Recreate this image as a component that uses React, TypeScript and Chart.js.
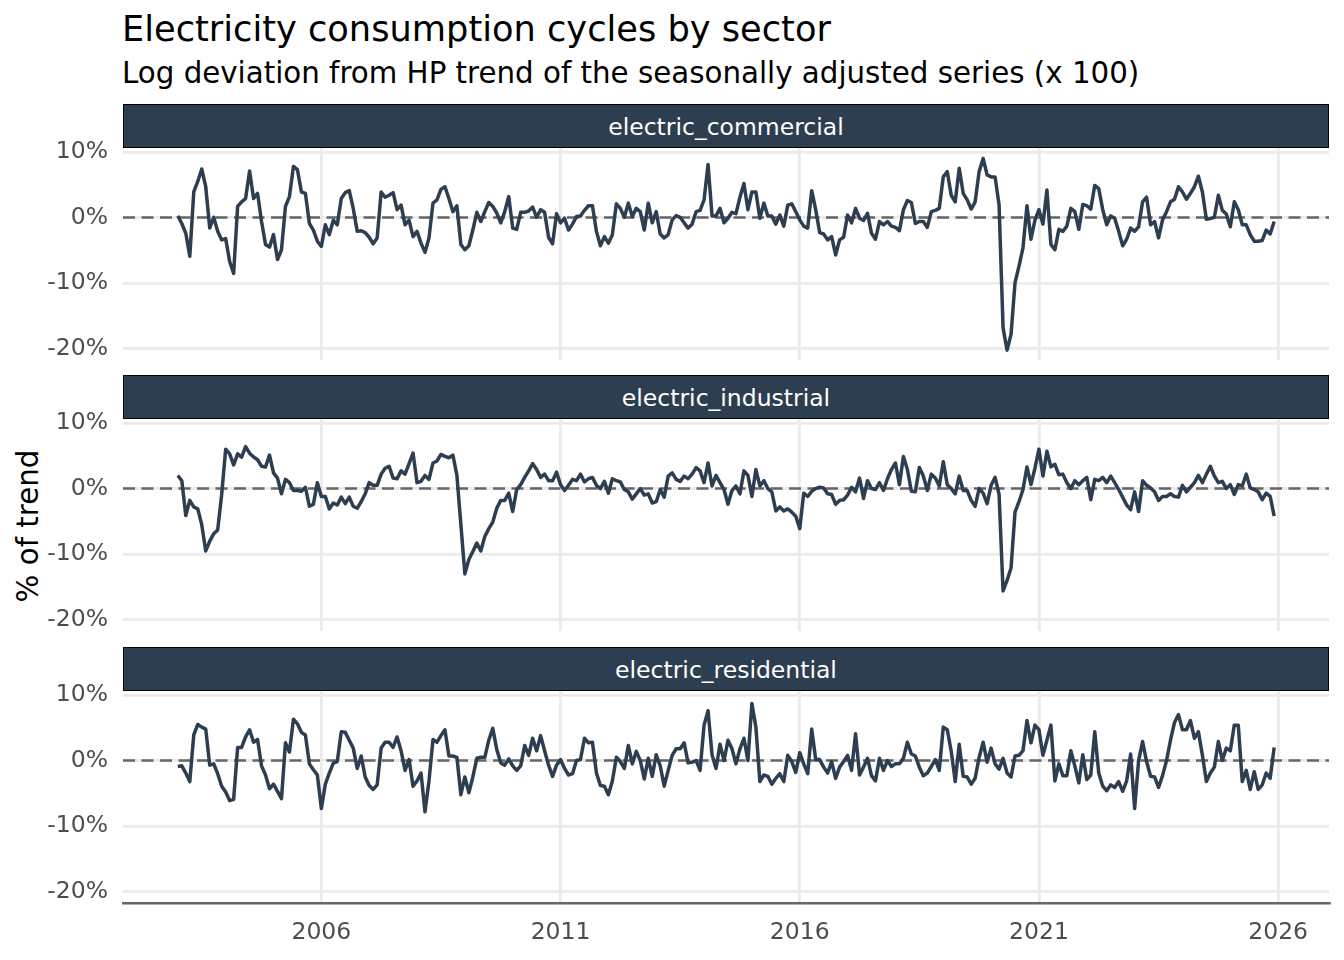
import React, { useEffect, useRef } from "react";
import { Chart, registerables } from "chart.js";

Chart.register(...registerables);

// ---------------- data ----------------
const START_YEAR = 2003; // first monthly observation: Jan 2003
const SECTORS = ["electric_commercial", "electric_industrial", "electric_residential"];

const commercial = [
  0.25, -0.9, -2.4, -5.9, 3.9, 5.5, 7.4, 4.7, -1.6, 0.05, -2.1, -3.4,
  -3.2, -6.7, -8.5, 1.7, 2.4, 2.9, 7.1, 2.9, 3.7, -0.6, -4.1, -4.5,
  -2.6, -6.4, -4.9, 1.7, 3.2, 7.8, 7.3, 3.9, 3.7, -0.9, -1.9, -3.6,
  -4.4, -1.1, -2.6, -0.4, -1.1, 2.9, 3.8, 4.1, 1.4, -2.1, -2.0, -2.3,
  -3.0, -4.0, -3.1, 3.9, 3.1, 3.4, 3.8, 1.2, 1.9, -1.1, -0.4, -2.9,
  -2.1, -3.9, -5.3, -3.1, 2.2, 2.7, 4.3, 4.7, 2.9, 0.9, 1.8, -4.1,
  -4.9, -4.3, -1.9, 0.8, -0.6, 0.9, 2.3, 1.7, 0.7, -0.8, 0.9, 3.2,
  -1.6, -1.8, 0.8, 0.8, 1.0, 1.6, 0.05, 1.2, 0.8, -3.0, -4.0, 0.6,
  -0.8, -0.1, -1.9, -1.0, 0.15, 0.25, 1.1, 1.8, 1.8, -2.1, -4.3, -2.9,
  -3.9, -2.6, 2.1, 1.4, 0.05, 2.2, 0.15, 1.4, 0.9, -1.9, 2.2, -0.8,
  0.9, -2.5, -3.1, -2.6, -0.35, 0.3, 0.05, -0.8, -1.6, -1.0, 0.9, 1.1,
  2.7, 8.1, 0.25, 0.25, 1.4, -0.8, -0.1, 0.8, 0.6, 3.1, 5.2, 1.2,
  3.9, 3.9, -0.1, 2.2, 0.25, 0.25, -1.0, 0.4, -1.3, 1.9, 2.1, 0.9,
  -0.35, -1.3, -1.6, 4.1, 1.2, -2.3, -2.5, -3.4, -2.9, -5.7, -3.4, -3.0,
  0.4, -0.8, 1.4, -0.1, -0.45, 0.65, -2.4, -3.3, -0.6, -1.1, -0.6, -1.3,
  -1.5, -2.0, 1.2, 2.6, 2.3, -0.9, -0.6, -0.6, -1.5, 0.9, 1.1, 1.4,
  6.2, 7.0, 3.4, 2.4, 7.5, 3.7, 2.7, 1.3, 2.4, 7.0, 9.0, 6.5,
  6.2, 6.2, 1.9, -16.8, -20.2, -17.8, -9.9, -7.4, -4.6, 1.8, -3.3, -0.4,
  1.2, -1.0, 4.2, -4.1, -4.9, -1.8, -2.1, -1.3, 1.4, 0.9, -1.8, 2.0,
  1.8, 1.3, 4.9, 4.4, 1.2, -1.1, 0.25, -0.1, -2.1, -4.3, -3.3, -1.6,
  -2.1, -1.4, 2.4, 3.1, -1.1, -0.6, -3.1, -0.35, 0.9, 2.4, 2.8, 4.7,
  3.9, 2.8, 3.7, 4.7, 6.3, 3.9, -0.25, -0.15, 0.05, 3.4, 1.1, 0.55,
  -1.4, 2.4, 1.2, -1.1, -1.1, -2.6, -3.6, -3.6, -3.5, -1.9, -2.5, -0.6,
];

const industrial = [
  2.0, 1.2, -4.1, -1.8, -2.8, -3.1, -5.5, -9.5, -8.0, -6.9, -6.3, -0.9,
  6.0, 5.3, 3.6, 5.3, 4.8, 6.4, 5.4, 4.8, 4.4, 3.4, 3.3, 5.1,
  2.4, 1.6, -0.8, 1.4, 0.9, -0.3, -0.3, -0.4, 0.2, -2.7, -2.4, 0.9,
  -1.2, -1.2, -3.1, -2.2, -2.5, -1.3, -2.3, -1.3, -2.7, -3.0, -2.0, -0.8,
  0.9, 0.5, 0.5, 2.2, 3.1, 3.4, 1.6, 1.5, 2.7, 2.2, 3.8, 5.4,
  0.9, 1.1, 2.0, 1.4, 3.9, 4.2, 5.2, 4.9, 4.7, 5.1, 2.0, -5.5,
  -13.0, -10.8, -9.6, -8.3, -9.5, -7.3, -6.1, -5.1, -3.0, -1.8, -1.8, -0.7,
  -3.5, -0.15, 0.6, 1.7, 2.7, 3.8, 2.9, 1.7, 2.2, 1.2, 1.2, 2.5,
  0.6, -0.3, 0.5, 1.4, 1.2, 2.2, 1.0, 1.5, 1.7, 0.5, 0.0, 1.1,
  -0.7, 1.5, 1.2, 1.0, -0.15, -0.5, -1.6, -0.8, 0.0, -1.0, -0.8, -2.2,
  -2.0, -0.15, -1.3, 1.9, 2.4, 1.4, 1.1, 1.9, 1.5, 2.2, 3.2, 2.7,
  0.9, 3.9, 0.4, 2.0, 0.9, -0.15, -2.4, -0.3, 0.4, -0.8, 2.7, 2.0,
  -1.2, 2.9, 0.4, 1.2, 0.0, -0.5, -3.4, -2.8, -3.4, -3.1, -3.6, -4.2,
  -6.1, -0.7, -1.2, -0.4, 0.0, 0.2, 0.1, -0.8, -0.9, -2.4, -1.8, -1.7,
  -1.0, 0.2, -0.5, 1.6, -1.5, 1.2, 0.0, -0.15, 0.9, -0.3, 1.5, 2.9,
  3.9, 0.6, 4.9, 2.9, -0.4, -0.5, 3.2, 1.9, -0.3, 2.2, 1.6, 0.4,
  4.1, 0.6, 0.0, -0.8, 1.9, -0.3, -0.3, -1.8, -2.7, 0.0, -0.7, -2.3,
  0.5, 1.7, -0.9, -15.6, -14.0, -12.1, -3.6, -2.0, -0.15, 3.3, 0.6, 3.1,
  6.0, 1.9, 5.7, 3.3, 3.7, 2.1, 2.2, 0.9, 0.0, 1.2, 0.6, 1.2,
  1.7, -1.7, 1.4, 1.2, 1.7, 0.9, 1.9, 0.9, -0.15, -1.3, -2.5, -3.2,
  -0.5, -3.5, 1.2, 0.5, 0.1, -0.5, -1.8, -1.2, -1.2, -0.8, -1.2, -1.3,
  0.5, -0.5, 0.2, 0.9, 2.0, 0.9, 2.2, 3.4, 1.9, 0.9, 1.1, 0.0,
  0.6, -0.9, 0.6, 0.4, 2.2, 0.1, -0.15, -0.5, -1.7, -0.7, -1.2, -4.2,
];

const residential = [
  -0.9, -0.8, -1.9, -3.2, 3.9, 5.5, 5.1, 4.8, -0.7, -0.5, -2.0, -3.9,
  -4.8, -6.1, -5.9, 2.0, 2.0, 3.6, 4.7, 2.8, 3.2, -0.8, -2.2, -4.3,
  -3.6, -4.7, -5.8, 2.7, 1.3, 6.3, 5.6, 4.3, 3.9, -0.5, -1.4, -2.2,
  -7.3, -3.6, -1.9, -0.4, -0.15, 4.4, 4.3, 3.1, 1.9, -1.2, 0.7, -2.5,
  -3.8, -4.4, -3.7, 1.9, 2.8, 2.8, 2.0, 3.6, 1.5, -1.5, 0.15, -3.9,
  -3.1, -1.9, -7.8, -3.1, 3.2, 2.8, 3.8, 4.7, 0.7, 0.7, 0.5, -5.2,
  -2.5, -4.9, -2.5, 0.35, 0.5, 0.5, 3.1, 4.9, 1.7, -0.35, -0.7, 0.25,
  -0.8, -1.5, -0.8, 2.3, 0.8, 3.4, 1.5, 3.8, 1.5, -0.7, -2.4, -0.7,
  0.15, -1.2, -2.2, -2.0, 0.0, 0.15, 3.4, 2.7, 2.8, -1.9, -3.8, -3.9,
  -5.2, -3.1, 0.5, -0.15, -1.2, 2.3, -0.5, 1.4, 0.0, -2.8, 0.35, -2.4,
  0.9, -0.8, -3.9, -1.5, 0.8, 1.8, 1.8, 2.7, -0.35, -0.25, 0.0, -1.5,
  5.4, 7.6, 0.9, -1.2, 2.5, 0.0, 3.1, 1.8, -0.5, 1.8, 3.4, 0.0,
  8.7, 5.1, -3.2, -2.2, -2.4, -3.6, -2.7, -2.0, -3.2, 0.8, -0.15, -1.8,
  1.2, -0.5, -2.0, 4.8, 0.15, 0.15, -1.0, -1.9, -0.15, -2.7, -1.0, -0.15,
  0.8, -1.5, 4.1, -2.2, -1.0, 0.35, -2.3, -3.1, 0.35, -1.5, 0.0, -0.9,
  -0.5, -0.5, 0.35, 2.8, 1.0, 0.7, -1.0, -2.3, -1.9, -0.9, 0.15, -1.5,
  5.1, 4.7, 1.4, -3.2, 2.5, -2.4, -2.5, -3.6, -2.7, 0.5, 2.8, -0.25,
  1.9, -0.5, -1.3, 0.35, -1.9, -2.5, 0.7, 0.8, 1.5, 6.1, 2.7, 5.4,
  4.7, 0.8, 3.1, 5.4, -3.1, -0.5, -2.3, -2.3, 1.5, -0.8, -3.4, 0.9,
  -2.9, -2.2, 4.4, -1.9, -3.9, -4.6, -3.7, -4.1, -3.2, -4.7, -3.1, 1.0,
  -7.3, 0.0, 2.9, -0.15, -2.4, -2.5, -4.1, -2.3, 0.0, 3.1, 5.8, 7.0,
  4.7, 4.7, 6.1, 3.4, 4.4, 0.8, -3.2, -1.9, -1.0, 2.9, 0.0, 1.9,
  1.5, 5.4, 5.4, -3.2, -1.5, -4.4, -1.7, -4.4, -3.7, -1.9, -2.7, 2.0,
];

const SERIES = [commercial, industrial, residential];
const X_TICKS = [2006, 2011, 2016, 2021, 2026];
const Y_TICKS = [-20, -10, 0, 10];
const X_MIN = 2001.854;
const X_MAX = 2027.063;
const Y_MIN = -21.7;
const Y_MAX = 10.6;

const TITLE = "Electricity consumption cycles by sector";
const SUBTITLE = "Log deviation from HP trend of the seasonally adjusted series (x 100)";
const Y_TITLE = "% of trend";

// ---------------- styling / layout ----------------
const FONT = "'DejaVu Sans', 'Noto Sans', sans-serif";
const INK = "#2C3E50";
const GRID = "#EBEBEB";
const AXIS_TEXT = "#4D4D4D";
const PAGE_W = 1344;
const PLOT_LEFT = 123;
const PLOT_RIGHT = 1329;
const STRIP_H = 44;
const PLOT_H = 212;
const FIRST_STRIP_TOP = 104;
const PANEL_STEP = 271.3;
const PAD_TOP = 20;
const TOP_AXIS_H = 16;
const BOTTOM_AXIS_H = 57;

const zeroLine = {
  id: "zeroLine",
  beforeDatasetsDraw(chart: any) {
    const { ctx, chartArea, scales } = chart;
    const y = scales.y.getPixelForValue(0);
    ctx.save();
    ctx.beginPath();
    ctx.setLineDash([12, 6.5]);
    ctx.lineWidth = 2.6;
    ctx.strokeStyle = "#666666";
    ctx.moveTo(chartArea.left, y);
    ctx.lineTo(chartArea.right, y);
    ctx.stroke();
    ctx.restore();
  },
};

function clearPadding(s: any) {
  s.paddingTop = 0;
  s.paddingBottom = 0;
  s.paddingLeft = 0;
  s.paddingRight = 0;
}

function Panel({ values, index, isBottom }: { values: number[]; index: number; isBottom: boolean }) {
  const ref = useRef<HTMLCanvasElement>(null);
  const stripTop = Math.round(FIRST_STRIP_TOP + index * PANEL_STEP);
  const plotTop = stripTop + STRIP_H;
  const axisH = isBottom ? BOTTOM_AXIS_H : TOP_AXIS_H;
  const canvasTop = plotTop - PAD_TOP;
  const canvasH = PAD_TOP + PLOT_H + axisH;

  useEffect(() => {
    if (!ref.current) return;
    const points = values.map((v, i) => ({ x: START_YEAR + i / 12, y: v }));
    const chart = new Chart(ref.current, {
      type: "line",
      data: {
        datasets: [
          {
            data: points,
            borderColor: INK,
            borderWidth: 3.5,
            pointRadius: 0,
            pointHoverRadius: 0,
            tension: 0,
            fill: false,
            borderJoinStyle: "round",
            borderCapStyle: "butt",
          },
        ],
      },
      options: {
        animation: false,
        responsive: false,
        maintainAspectRatio: false,
        events: [],
        layout: { padding: { top: PAD_TOP, right: PAGE_W - PLOT_RIGHT, bottom: 0, left: 0 } },
        plugins: { legend: { display: false }, tooltip: { enabled: false }, title: { display: false } },
        scales: {
          x: {
            type: "linear",
            min: X_MIN,
            max: X_MAX,
            afterBuildTicks: (s: any) => {
              s.ticks = X_TICKS.map((v) => ({ value: v }));
            },
            afterFit: (s: any) => {
              s.height = axisH;
              clearPadding(s);
            },
            grid: { color: GRID, lineWidth: 2.8, drawTicks: false },
            border: { display: isBottom, color: "#666666", width: 2.4 },
            ticks: {
              display: isBottom,
              autoSkip: false,
              maxRotation: 0,
              padding: 16,
              color: AXIS_TEXT,
              font: { family: FONT, size: 23.5 },
              callback: (v: any) => String(v),
            },
          },
          y: {
            type: "linear",
            min: Y_MIN,
            max: Y_MAX,
            afterBuildTicks: (s: any) => {
              s.ticks = Y_TICKS.map((v) => ({ value: v }));
            },
            afterFit: (s: any) => {
              s.width = PLOT_LEFT;
              clearPadding(s);
            },
            grid: { color: GRID, lineWidth: 2.8, drawTicks: false },
            border: { display: false },
            ticks: {
              padding: 15,
              color: AXIS_TEXT,
              font: { family: FONT, size: 23.5 },
              callback: (v: any) => `${v}%`,
            },
          },
        },
      } as any,
      plugins: [zeroLine],
    });
    return () => chart.destroy();
  }, [values, axisH, isBottom]);

  return (
    <>
      <canvas
        ref={ref}
        width={PAGE_W}
        height={canvasH}
        style={{ position: "absolute", left: 0, top: canvasTop, width: PAGE_W, height: canvasH }}
      />
      <div
        style={{
          position: "absolute",
          left: PLOT_LEFT,
          top: stripTop,
          width: PLOT_RIGHT - PLOT_LEFT,
          height: STRIP_H,
          boxSizing: "border-box",
          background: INK,
          border: "1.5px solid #000",
          paddingTop: 3,
          color: "#FFFFFF",
          fontFamily: FONT,
          fontSize: 23.5,
          lineHeight: 1,
          display: "flex",
          alignItems: "center",
          justifyContent: "center",
        }}
      >
        {SECTORS[index]}
      </div>
    </>
  );
}

export default function App() {
  return (
    <div
      style={{
        position: "absolute",
        left: 0,
        top: 0,
        width: PAGE_W,
        height: 960,
        background: "#FFFFFF",
        overflow: "hidden",
        fontFamily: FONT,
      }}
    >
      <div
        style={{
          position: "absolute",
          left: PLOT_LEFT - 1,
          top: 10.7,
          fontSize: 35.2,
          lineHeight: 1,
          color: "#000",
          whiteSpace: "nowrap",
        }}
      >
        {TITLE}
      </div>
      <div
        style={{
          position: "absolute",
          left: PLOT_LEFT - 1,
          top: 59.2,
          fontSize: 29.3,
          lineHeight: 1,
          color: "#000",
          whiteSpace: "nowrap",
        }}
      >
        {SUBTITLE}
      </div>
      <div
        style={{
          position: "absolute",
          left: 29.4,
          top: 526,
          fontSize: 29.3,
          lineHeight: 1,
          color: "#000",
          whiteSpace: "nowrap",
          transform: "translate(-50%, -50%) rotate(-90deg)",
        }}
      >
        {Y_TITLE}
      </div>
      {SERIES.map((values, i) => (
        <Panel key={SECTORS[i]} values={values} index={i} isBottom={i === SERIES.length - 1} />
      ))}
    </div>
  );
}
